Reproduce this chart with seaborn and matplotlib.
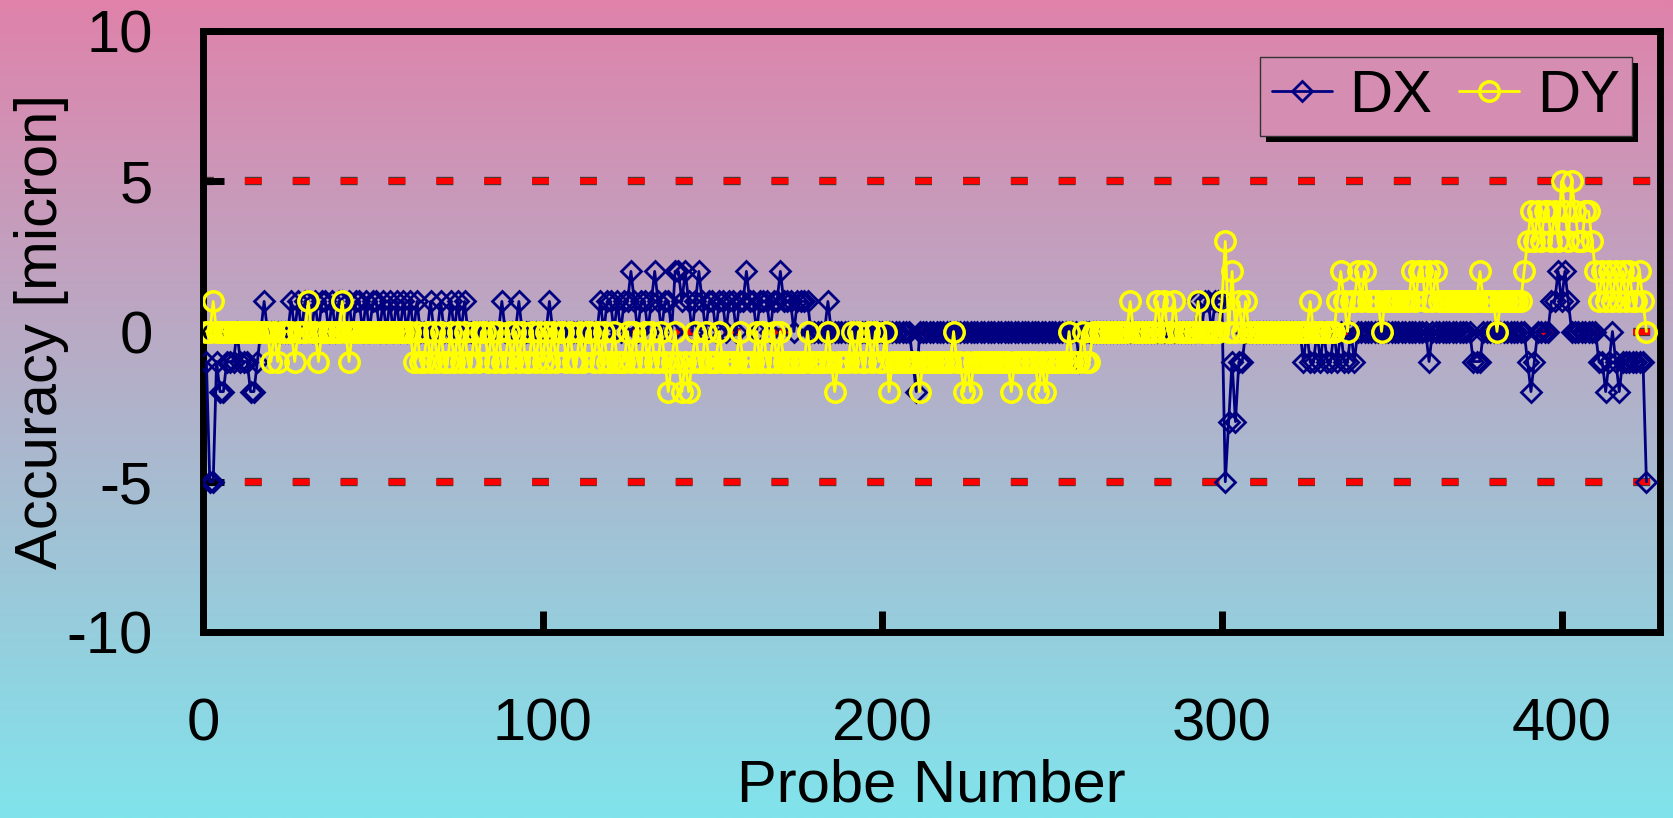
import numpy as np
import pandas as pd
import matplotlib
matplotlib.use("Agg")
import matplotlib.pyplot as plt
import matplotlib.patheffects as pe
from matplotlib.patches import Rectangle
from matplotlib.transforms import IdentityTransform
import seaborn as sns

# ---------------- data ----------------
DX = [
    -1, -5, -5, -1, -2, -2, -1, -1, -1, 0, -1, -1, -1, -2, -2, -1, 0, 1, 0, 0, 0, 0, 0, 0, 0,
    1, 0, 1, 0, 1, 1, 0, 1, 0, 1, 1, 0, 1, 0, 1, 1, 0, 1, 0, 1, 1, 0, 1, 0, 1,
    1, 0, 1, 0, 1, 0, 1, 0, 1, 0, 1, 0, 1, 0, 0, 0, 1, 0, 0, 1, 0, 0, 1, 0, 1,
    0, 1, 0, 0, 0, 0, 0, 0, 0, 0, 0, 0, 1, 0, 0, 0, 0, 1, 0, 0, 0, 0, 0, 0, 0,
    0, 1, 0, 0, 0, 0, 0, 0, 0, 0, 0, 0, 0, 0, 0, 0, 1, 0, 1, 1, 0, 1, 0, 1, 1,
    2, 1, 0, 1, 1, 0, 1, 2, 1, 0, 1, 1, 0, 2, 2, 1, 2, 1, 0, 1, 2, 1, 0, 1, 1,
    0, 1, 1, 0, 1, 1, 0, 1, 1, 2, 1, 1, 0, 1, 1, 1, 0, 1, 1, 2, 1, 1, 1, 0, 1,
    1, 1, 1, 0, 0, 0, 0, 0, 1, 0, 0, 0, 0, 0, 0, 0, 0, 0, 0, 0, 0, 0, 0, 0, 0,
    0, 0, 0, 0, 0, 0, 0, 0, -1, -2, 0, 0, 0, 0, 0, 0, 0, 0, 0, 0, 0, 0, 0, 0, 0,
    0, 0, 0, 0, 0, 0, 0, 0, 0, 0, 0, 0, 0, 0, 0, 0, 0, 0, 0, 0, 0, 0, 0, 0, 0,
    0, 0, 0, 0, 0, 0, 0, -1, 0, 0, 0, 0, 0, 0, 0, 0, 0, 0, 0, 0, 0, 0, 0, 0, 0,
    0, 0, 0, 0, 0, 0, 0, 0, 0, 0, 0, 0, 0, 0, 0, 0, 0, 1, 0, 1, 1, 0, 1, 1, 1,
    -5, -3, -1, -3, -1, -1, 0, 0, 0, 0, 0, 0, 0, 0, 0, 0, 0, 0, 0, 0, 0, 0, 0, -1, 0,
    -1, -1, 0, -1, 0, -1, -1, 0, -1, 0, -1, -1, 0, -1, 0, 0, 0, 0, 0, 0, 0, 0, 0, 0, 0,
    0, 0, 0, 0, 0, 0, 0, 0, 0, 0, -1, 0, 0, 0, 0, 0, 0, 0, 0, 0, 0, 0, 0, -1, -1,
    -1, 0, 0, 0, 0, 0, 0, 0, 0, 0, 0, 0, 0, 0, -1, -2, -1, 0, 0, 0, 0, 1, 1, 2, 1,
    2, 1, 0, 0, 0, 0, 0, 0, 0, 0, -1, -1, -2, -1, 0, -1, -2, -1, -1, -1, -1, -1, -1, -1, -5,
]
DY = [
    0, 0, 1, 0, 0, 0, 0, 0, 0, 0, 0, 0, 0, 0, 0, 0, 0, 0, 0, -1, 0, -1, 0, 0, 0,
    0, -1, 0, 0, 0, 1, 0, 0, -1, 0, 0, 0, 0, 0, 0, 1, 0, -1, 0, 0, 0, 0, 0, 0, 0,
    0, 0, 0, 0, 0, 0, 0, 0, 0, 0, 0, -1, 0, -1, -1, 0, -1, 0, -1, 0, -1, -1, 0, -1, 0,
    -1, 0, -1, -1, 0, -1, 0, 0, -1, 0, -1, 0, -1, -1, 0, -1, 0, -1, 0, -1, -1, 0, -1, 0, -1,
    0, -1, 0, -1, 0, 0, -1, 0, -1, -1, 0, -1, 0, 0, -1, 0, -1, 0, -1, -1, 0, -1, -1, -1, 0,
    -1, 0, -1, -1, 0, -1, 0, -1, -1, 0, -1, -2, -1, 0, -1, -2, -1, -2, -1, 0, -1, -1, 0, -1, -1,
    -1, 0, -1, -1, -1, -1, -1, 0, -1, -1, -1, -1, 0, -1, 0, -1, -1, 0, -1, 0, -1, -1, -1, -1, -1,
    -1, -1, 0, -1, -1, -1, -1, -1, 0, -1, -2, -1, -1, -1, -1, 0, -1, 0, -1, -1, 0, -1, 0, -1, -1,
    0, -2, -1, -1, -1, -1, -1, -1, -1, -1, -2, -1, -1, -1, -1, -1, -1, -1, -1, -1, 0, -1, -1, -2, -1,
    -2, -1, -1, -1, -1, -1, -1, -1, -1, -1, -1, -1, -2, -1, -1, -1, -1, -1, -1, -1, -2, -1, -2, -1, -1,
    -1, -1, -1, -1, 0, -1, -1, -1, 0, -1, -1, 0, 0, 0, 0, 0, 0, 0, 0, 0, 0, 0, 1, 0, 0,
    0, 0, 0, 0, 0, 1, 0, 1, 0, 0, 1, 0, 0, 0, 0, 0, 0, 1, 0, 0, 0, 0, 0, 0, 1,
    3, 0, 2, 0, 1, 0, 1, 0, 0, 0, 0, 0, 0, 0, 0, 0, 0, 0, 0, 0, 0, 0, 0, 0, 0,
    1, 0, 0, 0, 0, 0, 0, 0, 1, 2, 1, 0, 1, 1, 2, 1, 2, 1, 1, 1, 1, 0, 1, 1, 1,
    1, 1, 1, 1, 1, 2, 1, 2, 2, 1, 2, 1, 2, 1, 1, 1, 1, 1, 1, 1, 1, 1, 1, 1, 1,
    2, 1, 1, 1, 1, 0, 1, 1, 1, 1, 1, 1, 1, 2, 3, 4, 3, 4, 3, 4, 4, 3, 4, 3, 5,
    4, 3, 5, 4, 3, 3, 4, 4, 3, 2, 1, 2, 1, 2, 1, 2, 1, 2, 1, 2, 1, 1, 2, 1, 0,
]
probe = list(range(1, len(DX) + 1))
series_names = ["DX", "DY"]
limit_levels = [5, 0, -5]
x_ticks = [0, 100, 200, 300, 400]
y_ticks = [-10, -5, 0, 5, 10]

df = pd.DataFrame({"Probe Number": probe, "DX": DX, "DY": DY})

# ---------------- style ----------------
sns.set_style("white")
plt.rcParams["font.family"] = ["Liberation Sans", "DejaVu Sans"]
plt.rcParams["text.color"] = "black"
FS = 43

W, H, DPI = 1673, 818, 100
fig = plt.figure(figsize=(W / DPI, H / DPI), dpi=DPI)

# gradient background (pink top -> cyan bottom)
top_c = np.array([224, 130, 170]) / 255.0
bot_c = np.array([128, 228, 236]) / 255.0
t = np.linspace(0, 1, 512)[:, None]
grad = (top_c[None, :] * (1 - t) + bot_c[None, :] * t)[:, None, :]
bg = fig.add_axes([0, 0, 1, 1], zorder=-10)
bg.imshow(grad, aspect="auto", extent=[0, 1, 0, 1], origin="upper")
bg.axis("off")

ax = fig.add_axes([203 / W, 1 - 632 / H, 1457 / W, 601 / H])
ax.set_facecolor("none")
ax.set_axisbelow(False)

# red dashed limit lines
for lvl in limit_levels:
    ax.axhline(lvl, color="red", lw=4.5, ls=(0.96, (2.7, 4.96)), zorder=1,
               path_effects=[pe.Stroke(linewidth=6.0, foreground="#3a3a3a"), pe.Normal()])

sns.lineplot(data=df, x="Probe Number", y="DX", ax=ax, color="#000080", linewidth=2.0,
             marker="D", markersize=10, markerfacecolor="none", markeredgecolor="#000080",
             markeredgewidth=2.0, label="DX", errorbar=None, zorder=3)
sns.lineplot(data=df, x="Probe Number", y="DY", ax=ax, color="#FFFF00", linewidth=2.0,
             marker="o", markersize=14, markerfacecolor="none", markeredgecolor="#FFFF00",
             markeredgewidth=2.5, label="DY", errorbar=None, zorder=4)

ax.set_xlim(0, 429)
ax.set_ylim(-10, 10)
ax.set_xticks(x_ticks)
ax.set_yticks(y_ticks)
ax.set_xticklabels([str(v) for v in x_ticks])
ax.set_yticklabels([str(v) for v in y_ticks])
ax.tick_params(direction="in", length=15, width=5, color="black", labelsize=FS,
               labelcolor="black", bottom=True, left=True, top=False, right=False)
ax.tick_params(axis="x", pad=47)
ax.tick_params(axis="y", pad=36)
for sp in ax.spines.values():
    sp.set_visible(True)
    sp.set_linewidth(5)
    sp.set_color("black")
    sp.set_capstyle("projecting")

ax.set_xlabel("Probe Number", fontsize=FS, color="black")
ax.set_ylabel("Accuracy [micron]", fontsize=FS, color="black")
ax.xaxis.set_label_coords(0.5, -0.21)
ax.yaxis.set_label_coords(-0.092, 0.5)

# legend
handles, labels = ax.get_legend_handles_labels()
leg_y = 97 / H
leg_bg = tuple(top_c * (1 - leg_y) + bot_c * leg_y)
leg = ax.legend(handles, labels, ncol=2, loc="upper right",
                bbox_to_anchor=(1632 / W, 1 - 57 / H), bbox_transform=fig.transFigure,
                borderaxespad=0, fontsize=FS, frameon=True, fancybox=False,
                edgecolor="#333333", facecolor=leg_bg, framealpha=1,
                handlelength=1.0, handletextpad=0.3, columnspacing=0.45, borderpad=0.2)
leg.get_frame().set_linewidth(1.0)
for txt in leg.get_texts():
    txt.set_color("black")
leg.set_zorder(10)

fig.canvas.draw()
bb = leg.get_frame().get_window_extent(fig.canvas.get_renderer())
shadow = Rectangle((bb.x0 + 6, bb.y0 - 6), bb.width, bb.height, transform=IdentityTransform(),
                   facecolor="black", edgecolor="none", zorder=9.9, clip_on=False)
ax.add_artist(shadow)

fig.savefig("out.png", dpi=DPI)
